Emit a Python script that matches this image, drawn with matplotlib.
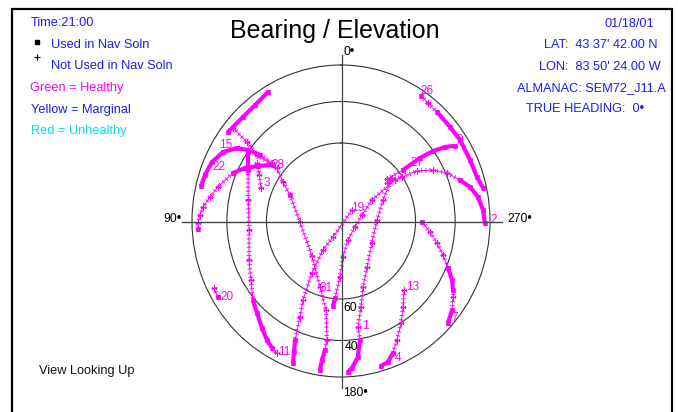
import numpy as np
import matplotlib.pyplot as plt
from matplotlib.lines import Line2D
from matplotlib.patches import Rectangle

plt.rcParams['font.family'] = ['Liberation Sans', 'DejaVu Sans']
plt.rcParams['lines.scale_dashes'] = False

# --- satellite tracks: azimuth (deg), elevation (deg), used in nav soln (1) or not (0)
sat26_az = [326.2, 322.3, 317.3, 309.5, 303.0, 294.3, 287.2, 282.5]
sat26_el = [15.4, 17.2, 18.0, 18.5, 17.6, 18.2, 17.2, 12.5]
sat26_used = [1, 0, 1, 1, 1, 1, 1, 1]

sat9_az = [311.1, 308.2, 307.3, 306.0, 304.2, 302.2]
sat9_el = [65.8, 58.1, 48.2, 40.3, 32.4, 25.3]
sat9_used = [0, 1, 1, 1, 1, 1]

sat2_az = [308.3, 304.6, 302.2, 297.9, 293.4, 288.2, 284.1, 279.5, 274.3, 269.2]
sat2_el = [66.8, 60.2, 52.9, 45.7, 39.2, 32.8, 26.7, 21.3, 17.1, 15.0]
sat2_used = [0, 0, 0, 0, 0, 1, 1, 1, 1, 1]

sat7_az = [269.4, 263.2, 257.6, 252.3, 247.3, 243.1, 239.6, 237.1, 232.5, 227.7]
sat7_el = [57.0, 53.0, 48.8, 44.0, 38.8, 33.4, 29.3, 26.4, 20.1, 13.8]
sat7_used = [1, 0, 0, 0, 1, 1, 1, 0, 1, 1]

sat13_az = [223.7, 217.1, 211.6, 206.2, 202.4]
sat13_el = [52.3, 46.3, 39.8, 31.7, 23.8]
sat13_used = [0, 0, 0, 0, 0]

sat4_az = [202.4, 199.2, 196.1]
sat4_el = [23.8, 16.8, 14.8]
sat4_used = [1, 1, 1]

sat1_az = [308.9, 295.6, 271.4, 235.9, 210.5, 199.3, 193.7, 189.5, 189.5, 187.4, 184.5, 182.8]
sat1_el = [63.9, 71.8, 76.0, 75.5, 69.9, 63.4, 55.5, 46.4, 39.4, 28.5, 19.1, 14.3]
sat1_used = [0, 0, 0, 0, 0, 0, 0, 0, 1, 1, 1, 1]

satA_az = [306.0, 303.0, 285.1, 248.0, 201.0, 183.2, 178.9, 175.4, 174.3]
satA_el = [63.4, 75.6, 81.6, 84.2, 82.5, 76.6, 69.0, 60.3, 56.8]
satA_used = [0, 0, 0, 0, 0, 0, 0, 1, 1]

sat19_az = [313.8, 152.3, 146.9, 149.6, 153.3, 155.9, 158.0, 159.4, 160.5]
sat19_el = [84.1, 83.3, 77.2, 67.3, 55.5, 47.6, 34.6, 26.2, 15.2]
sat19_used = [0, 0, 0, 0, 0, 0, 1, 1, 1]

sat31_az = [50.6, 51.3, 53.1, 51.7, 57.3, 63.9, 91.3, 139.0, 161.6, 170.0, 173.0, 172.6, 171.8, 171.6]
sat31_el = [20.1, 36.0, 45.2, 56.8, 62.4, 67.6, 74.0, 72.7, 63.5, 54.6, 39.7, 33.5, 25.8, 15.2]
sat31_used = [0, 0, 0, 0, 0, 1, 0, 0, 0, 0, 0, 1, 1, 1]

sat11_az = [54.7, 62.3, 77.8, 95.4, 112.1, 122.0, 130.6, 136.3, 142.3, 146.9, 150.4, 153.1]
sat11_el = [40.1, 45.2, 50.4, 51.7, 48.2, 44.5, 38.9, 35.3, 29.9, 24.4, 20.5, 18.4]
sat11_used = [1, 1, 0, 0, 0, 0, 1, 1, 1, 1, 1, 0]

sat3_az = [56.6, 61.8, 68.5]
sat3_el = [47.5, 51.4, 54.8]
sat3_used = [0, 0, 0]

sat20_az = [116.7, 120.5]
sat20_el = [17.5, 16.4]
sat20_used = [0, 1]

sat15_az = [30.6, 37.8, 44.6, 53.0]
sat15_el = [16.0, 19.8, 20.5, 18.4]
sat15_used = [1, 1, 1, 1]

sat22_az = [76.6, 72.1, 66.4, 60.8, 56.2, 53.9, 52.1, 51.2]
sat22_el = [15.0, 16.4, 19.1, 24.9, 32.8, 39.5, 46.4, 53.6]
sat22_used = [1, 1, 1, 1, 1, 1, 1, 0]

sat28_az = [51.8, 57.6, 62.2, 67.0, 75.2, 80.1, 84.4, 87.7, 90.8, 93.0]
sat28_el = [54.5, 48.8, 43.3, 38.0, 31.3, 26.8, 21.6, 18.7, 16.3, 16.0]
sat28_used = [1, 1, 1, 1, 0, 0, 0, 0, 0, 1]

tracks = {
    "26": (sat26_az, sat26_el, sat26_used), "9": (sat9_az, sat9_el, sat9_used),
    "2": (sat2_az, sat2_el, sat2_used), "7": (sat7_az, sat7_el, sat7_used),
    "13": (sat13_az, sat13_el, sat13_used), "4": (sat4_az, sat4_el, sat4_used),
    "1": (sat1_az, sat1_el, sat1_used), "A": (satA_az, satA_el, satA_used),
    "19": (sat19_az, sat19_el, sat19_used), "31": (sat31_az, sat31_el, sat31_used),
    "11": (sat11_az, sat11_el, sat11_used), "3": (sat3_az, sat3_el, sat3_used),
    "20": (sat20_az, sat20_el, sat20_used), "15": (sat15_az, sat15_el, sat15_used),
    "22": (sat22_az, sat22_el, sat22_used), "28": (sat28_az, sat28_el, sat28_used),
}

# label text, track, point index, offset in pixels
sat_labels = [
    ("26", "26", 0, 6.5, 5), ("9", "9", 5, 5, 5.5), ("27", "2", 2, 0, 8),
    ("2", "2", 9, 8.5, 3.5), ("7", "7", 9, 7, 5), ("13", "13", 0, 8.5, 2.5),
    ("4", "4", 1, 10.5, 4.5), ("1", "1", 7, 7, 1), ("31", "31", 8, 6, -0.5),
    ("19", "19", 0, 6, 2), ("11", "11", 11, 7, 1), ("20", "20", 1, 9.5, 0),
    ("3", "3", 2, 5.5, 5.5), ("28", "28", 0, 5, 0), ("22", "22", 1, 13.5, 8),
    ("15", "15", 3, -2.5, -13.5),
]

ring_el = [60, 40]

MAG = '#ff00ff'
BLUE = '#1c1cf0'
W, H = 678, 412


def fx(x):
    return x / W


def fy(y):
    return 1 - y / H


fig = plt.figure(figsize=(6.78, 4.12), dpi=100)
fig.patch.set_facecolor('white')

ax = fig.add_axes([fx(192), 35 / H, 298 / W, 312 / H], projection='polar')
ax.set_aspect('auto')
ax.set_theta_zero_location('N')
ax.set_theta_direction(1)
ax.set_ylim(0, 1)
ax.set_xticks([])
ax.set_yticks(np.cos(np.radians(ring_el)))
ax.set_yticklabels([])
ax.grid(True, color='#333333', lw=0.8)
ax.spines['polar'].set_color('#333333')
ax.spines['polar'].set_linewidth(0.8)
ax.set_facecolor('none')

# cross through the zenith
fig.add_artist(Line2D([fx(341.5), fx(341.5)], [fy(55), fy(388)], color='#444444', lw=0.9))
fig.add_artist(Line2D([fx(182), fx(502)], [fy(221.5), fy(221.5)], color='#444444', lw=1.0))

for name, (az, el, used) in tracks.items():
    th = np.radians(az)
    r = np.cos(np.radians(el))
    used = np.array(used, dtype=bool)
    for i in range(len(th) - 1):
        if used[i] and used[i + 1]:
            continue
        ax.plot(th[i:i + 2], r[i:i + 2], color=MAG, lw=0.7)
        ax.plot(th[i:i + 2], r[i:i + 2], color=MAG, lw=3.2, ls=(0, (0.7, 2.3)),
                dash_capstyle='butt')
    ax.plot(th[~used], r[~used], ls='none', marker='+', ms=4.2, mew=0.8, color=MAG)
    for i in range(len(th) - 1):
        if used[i] and used[i + 1]:
            ax.plot(th[i:i + 2], r[i:i + 2], color=MAG, lw=3.0, solid_capstyle='butt')
    ax.plot(th[used], r[used], ls='none', marker='s', ms=3.2, color=MAG, mec=MAG, mew=0.5)

for text, name, idx, dx, dy in sat_labels:
    az, el, _ = tracks[name]
    ax.annotate(text, xy=(np.radians(az[idx]), np.cos(np.radians(el[idx]))),
                xytext=(dx, dy), textcoords='offset pixels', ha='center', va='center',
                color=MAG, fontsize=8.5, annotation_clip=False)

# compass and ring labels
fs = 8.8
fig.text(fx(343), fy(52), "0\u2022", fontsize=fs, va='center', ha='left')
fig.text(fx(181), fy(218.5), "90\u2022", fontsize=fs, va='center', ha='right')
fig.text(fx(507), fy(219), "270\u2022", fontsize=fs, va='center', ha='left')
fig.text(fx(343), fy(393), "180\u2022", fontsize=fs, va='center', ha='left')
fig.text(fx(343), fy(308), "60", fontsize=fs, va='center', ha='left')
fig.text(fx(345), fy(347), "40", fontsize=fs, va='center', ha='left')

fig.text(fx(334.5), fy(31), "Bearing / Elevation", fontsize=18, ha='center', va='center')

# left info block
ts = 9.2
fig.text(fx(30.7), fy(26.5), "Time:21:00", color=BLUE, fontsize=ts)
fig.add_artist(Line2D([fx(36.7)], [fy(42.3)], marker='s', ms=3.2, color='black', ls='none'))
fig.text(fx(50.7), fy(47.8), "Used in Nav Soln", color=BLUE, fontsize=ts)
fig.add_artist(Line2D([fx(36.7)], [fy(56.7)], marker='+', ms=4, mew=0.8, color='black', ls='none'))
fig.text(fx(50.7), fy(69), "Not Used in Nav Soln", color=BLUE, fontsize=ts)
fig.text(fx(30.3), fy(90.8), "Green = Healthy", color=MAG, fontsize=ts)
fig.text(fx(30.7), fy(112.5), "Yellow = Marginal", color=BLUE, fontsize=ts)
fig.text(fx(30.7), fy(134), "Red = Unhealthy", color='#00e0ee', fontsize=ts)

# right info block
fig.text(fx(604.3), fy(27.3), "01/18/01", color=BLUE, fontsize=ts)
fig.text(fx(544), fy(48), "LAT:  43 37' 42.00 N", color=BLUE, fontsize=ts)
fig.text(fx(539.3), fy(69.5), "LON:  83 50' 24.00 W", color=BLUE, fontsize=ts)
fig.text(fx(517.3), fy(91), "ALMANAC: SEM72_J11.A", color=BLUE, fontsize=ts)
fig.text(fx(526), fy(112.5), "TRUE HEADING:  0\u2022", color=BLUE, fontsize=ts)

fig.text(fx(39.3), fy(374), "View Looking Up", color='#111111', fontsize=ts)

# outer frame
fig.add_artist(Rectangle((fx(11.5), -0.05), fx(672) - fx(11.5), fy(8.5) + 0.05,
                         transform=fig.transFigure, fill=False, ec='black', lw=1.6))

fig.savefig("out.png", dpi=100, facecolor='white')
